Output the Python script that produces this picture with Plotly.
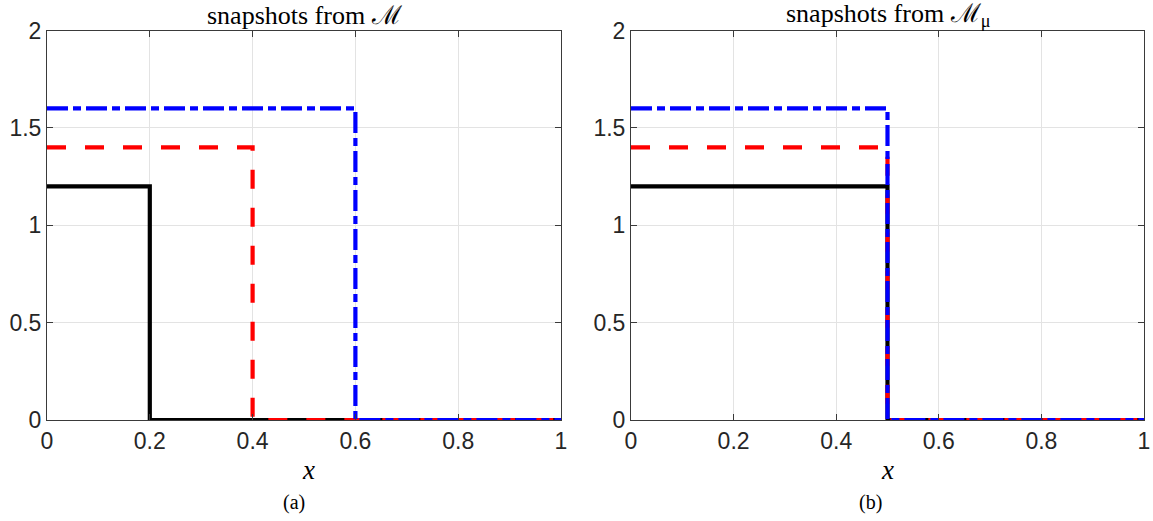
import plotly.graph_objects as go

# Data: step functions u(x) = h for x < s, 0 otherwise
x_start = 0.0
x_end = 1.0
heights = [1.2, 1.4, 1.6]                 # black, red, blue
jumps_a = [0.2, 0.4, 0.6]                 # panel (a): snapshots from M
jumps_b = [0.5, 0.5, 0.5]                 # panel (b): snapshots from M_mu
names = ["snapshot 1", "snapshot 2", "snapshot 3"]

colors = ["#000000", "#ff0000", "#0000ff"]
dashes = ["solid", "19px,19px", "21px,5px,8px,5px"]

W, H = 1153, 521


def px(v):
    return v / W


def py(v):
    return 1 - v / H


L_dom = [px(47), px(561)]
R_dom = [px(631), px(1144)]
Y_dom = [py(420), py(30.5)]

fig = go.Figure()

for jumps, xa, ya in [(jumps_a, "x", "y"), (jumps_b, "x2", "y2")]:
    for h, s, c, d, n in zip(heights, jumps, colors, dashes, names):
        fig.add_trace(go.Scatter(
            x=[x_start, s, x_end], y=[h, 0, 0],
            mode="lines", line=dict(color=c, width=4.2, dash=d, shape="hv"),
            name=n, showlegend=False, xaxis=xa, yaxis=ya, hoverinfo="skip",
            cliponaxis=False))

tick_font = dict(family="Liberation Sans, Arial, sans-serif", size=23, color="#262626")
axis_common = dict(
    showline=True, linecolor="#3a3a3a", linewidth=1, mirror="ticks",
    ticks="inside", ticklen=6, tickcolor="#3a3a3a", tickwidth=1,
    showgrid=True, gridcolor="#e3e3e3", gridwidth=1,
    zeroline=False, tickfont=tick_font, automargin=False,
)

x_ticks = [0, 0.2, 0.4, 0.6, 0.8, 1]
x_ticktext = ["0", "0.2", "0.4", "0.6", "0.8", "1"]
y_ticks = [0, 0.5, 1, 1.5, 2]
y_ticktext = ["0", "0.5", "1", "1.5", "2"]

fig.update_layout(
    width=W, height=H,
    margin=dict(l=0, r=0, t=0, b=0, autoexpand=False),
    paper_bgcolor="white", plot_bgcolor="white",
    xaxis=dict(domain=L_dom, range=[0, 1], anchor="y", tickvals=x_ticks,
               ticktext=x_ticktext, **axis_common),
    yaxis=dict(domain=Y_dom, range=[0, 2], anchor="x", tickvals=y_ticks,
               ticktext=y_ticktext, **axis_common),
    xaxis2=dict(domain=R_dom, range=[0, 1], anchor="y2", tickvals=x_ticks,
                ticktext=x_ticktext, **axis_common),
    yaxis2=dict(domain=Y_dom, range=[0, 2], anchor="x2", tickvals=y_ticks,
                ticktext=y_ticktext, **axis_common),
)

serif = "Liberation Serif, DejaVu Serif, serif"
ann = [
    dict(text="snapshots from ℳ", x=px((47 + 561) / 2), y=py(15), font=dict(family=serif, size=26, color="black")),
    dict(text="snapshots from ℳ<sub>μ</sub>", x=px((631 + 1144) / 2), y=py(15), font=dict(family=serif, size=26, color="black")),
    dict(text="<i>x</i>", x=px(308), y=py(470), font=dict(family=serif, size=27, color="black")),
    dict(text="<i>x</i>", x=px(887), y=py(470), font=dict(family=serif, size=27, color="black")),
    dict(text="(a)", x=px(294), y=py(502), font=dict(family=serif, size=20, color="black")),
    dict(text="(b)", x=px(870), y=py(502), font=dict(family=serif, size=20, color="black")),
]
for a in ann:
    fig.add_annotation(xref="paper", yref="paper", showarrow=False,
                       xanchor="center", yanchor="middle", borderpad=0, **a)

fig.write_html(
    "out.html",
    config={"displayModeBar": False, "staticPlot": True},
    post_script="document.body.style.margin='0';document.body.style.overflow='hidden';",
)
